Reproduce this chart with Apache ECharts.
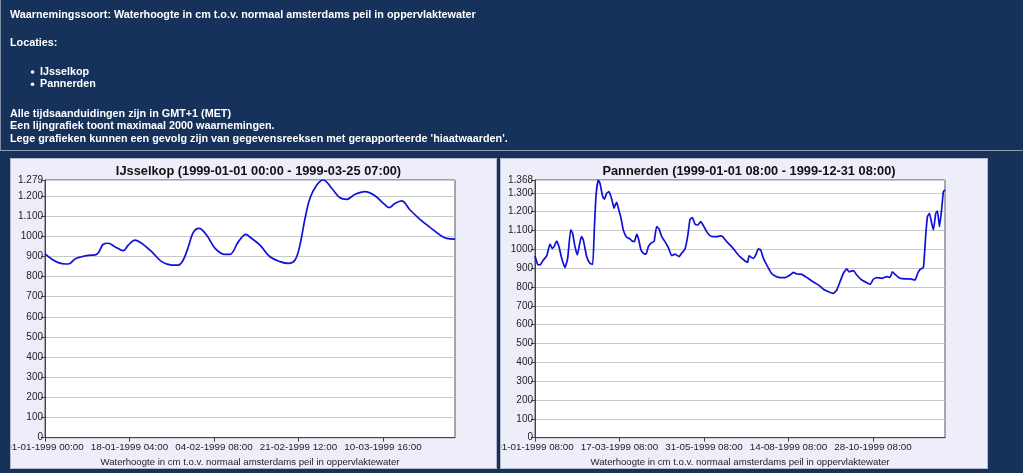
<!DOCTYPE html>
<html>
<head>
<meta charset="utf-8">
<script src="https://cdn.jsdelivr.net/npm/echarts@6/dist/echarts.min.js"></script>
<style>
html,body{margin:0;padding:0;background:#16315a;overflow:hidden;}
#wrap{position:relative;width:1023px;height:473px;}
#bg{position:absolute;left:0;top:0;width:1023px;height:473px;}
#p1{position:absolute;left:10px;top:158px;width:487px;height:311px;}
#p2{position:absolute;left:500px;top:158px;width:488px;height:311px;}
</style>
</head>
<body>
<div id="wrap">
<div id="bg"></div>
<div id="p1"></div>
<div id="p2"></div>
</div>
<script>
// ---------- header texts ----------
const headerLines = [
  'Waarnemingssoort: Waterhoogte in cm t.o.v. normaal amsterdams peil in oppervlaktewater',
  'Locaties:'
];
const locationNames = ['IJsselkop', 'Pannerden'];
const noteLines = [
  'Alle tijdsaanduidingen zijn in GMT+1 (MET)',
  'Een lijngrafiek toont maximaal 2000 waarnemingen.',
  "Lege grafieken kunnen een gevolg zijn van gegevensreeksen met gerapporteerde 'hiaatwaarden'."
];
const axisName = 'Waterhoogte in cm t.o.v. normaal amsterdams peil in oppervlaktewater';

// ---------- IJsselkop ----------
const ijsselkopTitle = 'IJsselkop (1999-01-01 00:00 - 1999-03-25 07:00)';
const ijsselkopStart = [1999, 1, 1, 0, 0];
const ijsselkopEndHours = 1999;          // 1999-03-25 07:00
const ijsselkopTickHours = 412;
const ijsselkopMax = 1279;
const ijsselkopHours = [0,32,65,98,122,146,179,211,244,260,284,309,341,382,406,439,471,520,569,618,650,674,699,723,751,788,829,878,902,943,980,1000,1048,1097,1146,1186,1219,1243,1268,1292,1325,1357,1398,1438,1471,1512,1560,1609,1650,1679,1707,1739,1780,1828,1877,1926,1958,1999];
const ijsselkopValues = [912,887,869,862,865,887,898,905,907,918,960,965,948,928,956,981,965,923,874,857,857,882,948,1019,1039,1006,940,910,910,973,1009,995,956,898,874,865,882,956,1089,1188,1254,1279,1238,1191,1183,1208,1221,1201,1163,1142,1163,1175,1130,1084,1044,1006,989,986];

// ---------- Pannerden ----------
const pannerdenTitle = 'Pannerden (1999-01-01 08:00 - 1999-12-31 08:00)';
const pannerdenStart = [1999, 1, 1, 8, 0];
const pannerdenEndDays = 364;            // 1999-12-31 08:00
const pannerdenTickDays = 75;
const pannerdenMax = 1368;
const pannerdenDays = [0,2.4,4.4,7.4,10.4,13.3,15.4,16.9,19.2,21.3,23.7,26.6,29,31.7,33.4,35.5,37.6,40,41.4,42.9,45.9,48.8,51.2,52.7,54.2,56.2,57.7,60.1,61.6,63.6,65.7,68.1,70.2,71,72.5,74,76.4,78.4,81.4,84.4,85.8,88.2,90.3,91.8,94.1,96.2,98.6,100.6,103.6,105.7,108,110.1,112.5,115.4,118.4,121.4,124.3,127.9,130.2,133.2,135.6,137.6,139.7,142.1,144.4,147.1,149.5,152.4,155.4,158.4,161.3,164.3,166.6,170.2,174.6,178,182,186.5,188.8,190,192.4,193.9,196,198.3,200.4,202.8,205.7,209.6,213.1,217.6,222,226.4,229.4,232.4,236.8,241.2,245.7,251.6,256,260.5,264.9,267.9,270.8,273.8,276.8,278.8,282.7,285.6,290.1,294.5,297.5,300.4,303.4,307.8,312.3,315.2,317.3,319.7,324.1,328.6,333,337.4,339.8,341.9,344.8,346.9,348.4,350.2,352.2,353.7,355.8,357.3,359.1,361.1,362.6,364];
const pannerdenValues = [965,920,917,943,965,1028,1005,1014,1044,1014,952,903,952,1103,1085,1014,970,1041,1067,1050,961,926,920,1111,1288,1368,1350,1280,1267,1297,1306,1267,1218,1232,1249,1218,1165,1103,1064,1055,1046,1041,1080,1058,996,979,975,1014,1035,1041,1120,1108,1067,1041,1009,966,975,961,979,1002,1071,1159,1168,1133,1129,1147,1126,1094,1073,1067,1067,1071,1067,1041,1014,989,961,938,931,966,956,952,970,1002,996,952,917,876,858,850,850,864,878,869,867,851,832,811,788,775,766,784,828,873,896,881,887,864,837,823,814,841,850,846,855,851,881,867,846,843,843,837,873,894,903,1076,1173,1191,1138,1103,1191,1203,1120,1218,1306,1315];

// ---------- helpers ----------
function pad(n){ return String(n).padStart(2,'0'); }
function makeDateFmt(start){
  const t0 = Date.UTC(start[0], start[1]-1, start[2], start[3], start[4]);
  return function(h){
    const d = new Date(t0 + Math.round(h*3600000));
    return pad(d.getUTCDate())+'-'+pad(d.getUTCMonth()+1)+'-'+d.getUTCFullYear()+' '+pad(d.getUTCHours())+':'+pad(d.getUTCMinutes());
  };
}
function fmtY(v){
  if (v > 1000) return Math.floor(v/1000) + '.' + String(Math.round(v%1000)).padStart(3,'0');
  return String(v);
}

const FONT = 'Liberation Sans, Arial, sans-serif';
const WHITE_FONT = 'bold 10.8px ' + FONT;
const LH = 12.3;

// ---------- background + header ----------
const graphics = [];
graphics.push({type:'line', shape:{x1:0.5,y1:0,x2:0.5,y2:150}, style:{stroke:'#7d8aa3', lineWidth:1}});
graphics.push({type:'text', x:10, y:15, style:{text:headerLines[0], fill:'#ffffff', font:WHITE_FONT, verticalAlign:'middle'}});
graphics.push({type:'text', x:10, y:43, style:{text:headerLines[1], fill:'#ffffff', font:WHITE_FONT, verticalAlign:'middle'}});
locationNames.forEach((n,i)=>{
  const y = 72 + i*LH;
  graphics.push({type:'circle', shape:{cx:32.5, cy:y, r:1.8}, style:{fill:'#ffffff'}});
  graphics.push({type:'text', x:40, y:y, style:{text:n, fill:'#ffffff', font:WHITE_FONT, verticalAlign:'middle'}});
});
noteLines.forEach((t,i)=>{
  graphics.push({type:'text', x:10, y:114 + i*LH, style:{text:t, fill:'#ffffff', font:WHITE_FONT, verticalAlign:'middle'}});
});
graphics.push({type:'line', shape:{x1:0,y1:150.5,x2:1023,y2:150.5}, style:{stroke:'#8f9bb0', lineWidth:1}});

const bg = echarts.init(document.getElementById('bg'));
bg.setOption({backgroundColor:'#16315a', animation:false, graphic:{elements:graphics}});

// ---------- panels ----------
function makePanel(el, title, start, maxH, intH, maxV, data, smooth){
  const w = el.clientWidth, h = el.clientHeight;
  const fmt = makeDateFmt(start);
  const c = echarts.init(el);
  c.setOption({
    backgroundColor:'#eeeefb',
    animation:false,
    title:{text:title, left:w/2, top:2, textAlign:'center', textStyle:{fontFamily:FONT, fontSize:12.8, fontWeight:'bold', color:'#111'}},
    graphic:{elements:[{type:'rect', z:100, shape:{x:0.5,y:0.5,width:w-1,height:h-1}, style:{fill:null, stroke:'#b4b8c8', lineWidth:1}}]},
    grid:{left:35, top:22, width:410, height:257.7, containLabel:false, outerBoundsMode:'none', show:true, backgroundColor:'#ffffff', borderColor:'#555', borderWidth:1},
    xAxis:{
      type:'value', min:0, max:maxH, interval:intH,
      name:axisName, nameLocation:'middle', nameGap:16,
      nameTextStyle:{fontFamily:FONT, fontSize:9.6, color:'#222'},
      axisLine:{show:true, lineStyle:{color:'#444', width:1}},
      axisTick:{show:true, length:4, lineStyle:{color:'#444'}},
      axisLabel:{show:true, formatter:fmt, margin:5, fontFamily:FONT, fontSize:9.8, color:'#222', showMaxLabel:false, showMinLabel:true},
      splitLine:{show:false}
    },
    yAxis:{
      type:'value', min:0, max:maxV, interval:100,
      axisLine:{show:true, lineStyle:{color:'#444', width:1}},
      axisTick:{show:true, length:4, lineStyle:{color:'#444'}},
      axisLabel:{show:true, formatter:fmtY, margin:2, fontFamily:FONT, fontSize:10, color:'#222', showMaxLabel:true},
      splitLine:{show:true, lineStyle:{color:'#c9c9c9', width:1}}
    },
    series:[{type:'line', data:data, showSymbol:false, smooth:smooth, lineStyle:{color:'#1010d8', width:1.7}}]
  });
}

makePanel(document.getElementById('p1'), ijsselkopTitle, ijsselkopStart, ijsselkopEndHours, ijsselkopTickHours, ijsselkopMax,
  ijsselkopHours.map((h,i)=>[h, ijsselkopValues[i]]), 0.35);
makePanel(document.getElementById('p2'), pannerdenTitle, pannerdenStart, pannerdenEndDays*24, pannerdenTickDays*24, pannerdenMax,
  pannerdenDays.map((d,i)=>[d*24, pannerdenValues[i]]), 0.15);
</script>
</body>
</html>
